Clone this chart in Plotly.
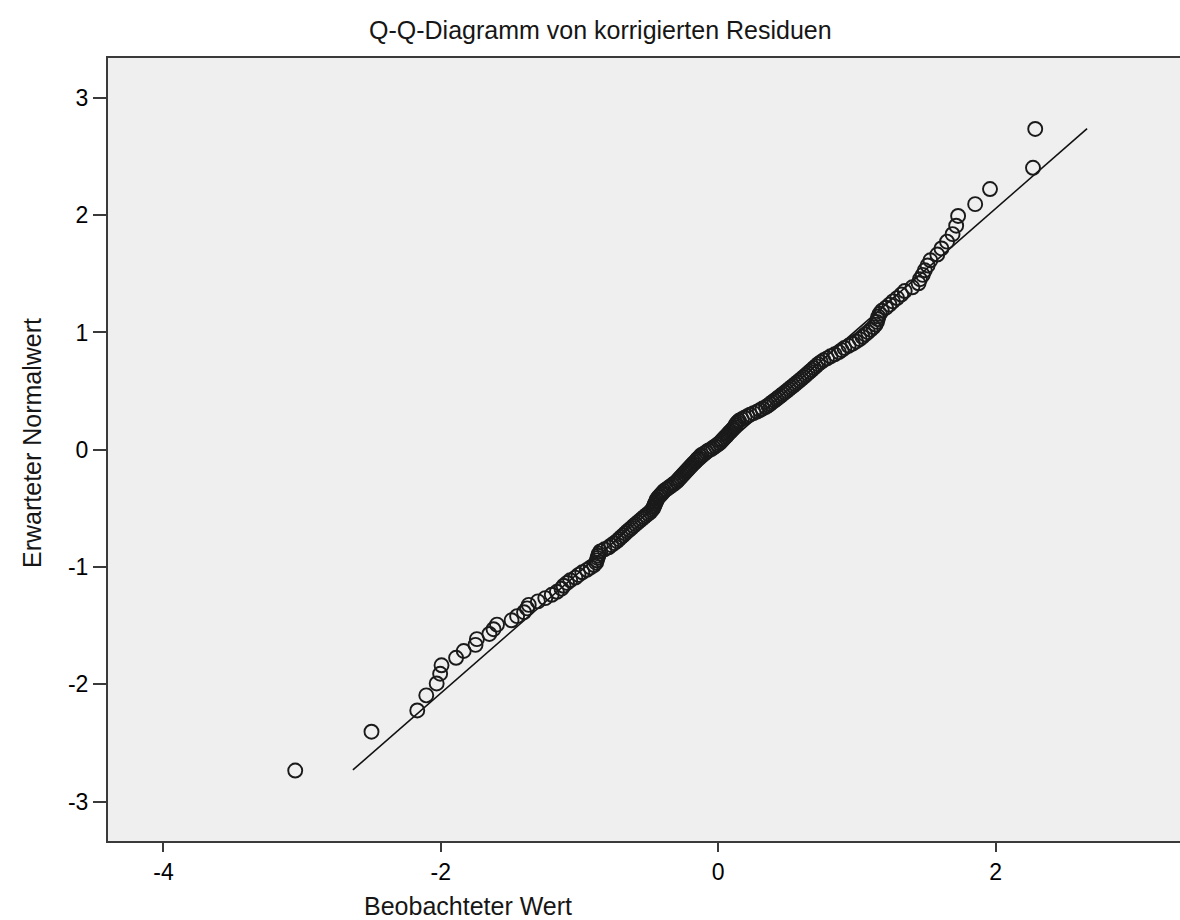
import plotly.graph_objects as go

expected_normal = [
    -2.735, -2.404, -2.223, -2.094, -1.993, -1.910, -1.838, -1.774, -1.716, -1.664,
    -1.615, -1.571, -1.530, -1.491, -1.454, -1.419, -1.385, -1.353, -1.323, -1.293,
    -1.265, -1.237, -1.211, -1.185, -1.160, -1.136, -1.113, -1.090, -1.067, -1.045,
    -1.024, -1.003, -0.983, -0.963, -0.943, -0.923, -0.904, -0.886, -0.867, -0.849,
    -0.832, -0.814, -0.797, -0.779, -0.763, -0.746, -0.730, -0.713, -0.697, -0.681,
    -0.666, -0.650, -0.635, -0.619, -0.604, -0.589, -0.574, -0.560, -0.545, -0.531,
    -0.516, -0.502, -0.488, -0.474, -0.460, -0.446, -0.432, -0.419, -0.405, -0.392,
    -0.378, -0.365, -0.351, -0.338, -0.325, -0.312, -0.299, -0.286, -0.273, -0.260,
    -0.247, -0.234, -0.221, -0.208, -0.195, -0.183, -0.170, -0.157, -0.145, -0.132,
    -0.119, -0.107, -0.094, -0.081, -0.069, -0.056, -0.044, -0.031, -0.019, -0.006,
    0.006, 0.019, 0.031, 0.044, 0.056, 0.069, 0.081, 0.094, 0.107, 0.119,
    0.132, 0.145, 0.157, 0.170, 0.183, 0.195, 0.208, 0.221, 0.234, 0.247,
    0.260, 0.273, 0.286, 0.299, 0.312, 0.325, 0.338, 0.351, 0.365, 0.378,
    0.392, 0.405, 0.419, 0.432, 0.446, 0.460, 0.474, 0.488, 0.502, 0.516,
    0.531, 0.545, 0.560, 0.574, 0.589, 0.604, 0.619, 0.635, 0.650, 0.666,
    0.681, 0.697, 0.713, 0.730, 0.746, 0.763, 0.779, 0.797, 0.814, 0.832,
    0.849, 0.867, 0.886, 0.904, 0.923, 0.943, 0.963, 0.983, 1.003, 1.024,
    1.045, 1.067, 1.090, 1.113, 1.136, 1.160, 1.185, 1.211, 1.237, 1.265,
    1.293, 1.323, 1.353, 1.385, 1.419, 1.454, 1.491, 1.530, 1.571, 1.615,
    1.664, 1.716, 1.774, 1.838, 1.910, 1.993, 2.094, 2.223, 2.404, 2.735,
]

observed_value = [
    -3.05, -2.50, -2.17, -2.105, -2.03, -2.005, -1.995, -1.89, -1.835, -1.75,
    -1.74, -1.65, -1.62, -1.595, -1.49, -1.45, -1.40, -1.378, -1.366, -1.30,
    -1.247, -1.20, -1.163, -1.13, -1.115, -1.09, -1.067, -1.03, -1.007, -0.98,
    -0.947, -0.92, -0.895, -0.88, -0.875, -0.87, -0.865, -0.86, -0.85, -0.82,
    -0.79, -0.77, -0.75, -0.73, -0.715, -0.70, -0.685, -0.67, -0.655, -0.64,
    -0.625, -0.61, -0.595, -0.58, -0.565, -0.55, -0.535, -0.52, -0.505, -0.49,
    -0.48, -0.47, -0.465, -0.46, -0.455, -0.45, -0.445, -0.44, -0.43, -0.42,
    -0.41, -0.40, -0.39, -0.375, -0.36, -0.345, -0.33, -0.315, -0.30, -0.29,
    -0.28, -0.27, -0.26, -0.25, -0.24, -0.23, -0.22, -0.21, -0.20, -0.19,
    -0.18, -0.17, -0.16, -0.15, -0.14, -0.13, -0.12, -0.10, -0.085, -0.07,
    -0.05, -0.035, -0.02, -0.005, 0.01, 0.02, 0.03, 0.04, 0.05, 0.06,
    0.07, 0.08, 0.09, 0.10, 0.11, 0.12, 0.125, 0.13, 0.14, 0.15,
    0.17, 0.19, 0.21, 0.23, 0.255, 0.28, 0.30, 0.32, 0.345, 0.36,
    0.375, 0.39, 0.405, 0.42, 0.435, 0.45, 0.465, 0.48, 0.495, 0.51,
    0.525, 0.54, 0.555, 0.57, 0.585, 0.60, 0.615, 0.63, 0.645, 0.66,
    0.675, 0.69, 0.705, 0.72, 0.74, 0.76, 0.785, 0.81, 0.84, 0.87,
    0.89, 0.91, 0.94, 0.97, 0.995, 1.02, 1.04, 1.06, 1.08, 1.10,
    1.12, 1.135, 1.145, 1.15, 1.155, 1.165, 1.18, 1.21, 1.235, 1.26,
    1.29, 1.32, 1.345, 1.40, 1.445, 1.455, 1.475, 1.49, 1.51, 1.53,
    1.58, 1.61, 1.65, 1.69, 1.716, 1.73, 1.853, 1.96, 2.27, 2.286,
]

# Reference line end points
ref_line_x = [-2.634, 2.66]
ref_line_y = [-2.73, 2.737]

x_ticks = [-4, -2, 0, 2]
y_ticks = [-3, -2, -1, 0, 1, 2, 3]

title_text = "Q-Q-Diagramm von korrigierten Residuen"
x_title = "Beobachteter Wert"
y_title = "Erwarteter Normalwert"

FONT = "Liberation Sans, Arial, sans-serif"

fig = go.Figure()
fig.add_trace(go.Scatter(
    x=ref_line_x, y=ref_line_y, mode="lines",
    line=dict(color="#111111", width=1.6), hoverinfo="skip", showlegend=False,
))
fig.add_trace(go.Scatter(
    x=observed_value, y=expected_normal, mode="markers",
    marker=dict(symbol="circle-open", size=14, color="#1a1a1a", line=dict(width=1.9)),
    showlegend=False,
))

L, T, B = 108, 58, 79
W, H = 1180, 920
pw, ph = W - L, H - T - B

def px(xp):
    return (xp - L) / pw

def py(yp):
    return (H - B - yp) / ph

fig.update_layout(
    width=W, height=H,
    margin=dict(l=L, r=0, t=T, b=B),
    paper_bgcolor="white",
    plot_bgcolor="#efefef",
    font=dict(family=FONT, color="#000000", size=22),
    showlegend=False,
    annotations=[
        dict(text=title_text, xref="paper", yref="paper", x=px(600), y=py(30),
             xanchor="center", yanchor="middle", showarrow=False,
             font=dict(size=25, family=FONT, color="#161616")),
        dict(text=x_title, xref="paper", yref="paper", x=px(468), y=py(906),
             xanchor="center", yanchor="middle", showarrow=False,
             font=dict(size=25, family=FONT, color="#161616")),
        dict(text=y_title, xref="paper", yref="paper", x=px(32), y=py(443),
             xanchor="center", yanchor="middle", showarrow=False, textangle=-90,
             font=dict(size=25, family=FONT, color="#161616")),
    ],
)

fig.update_xaxes(
    range=[-4.40, 3.33], tickmode="array", tickvals=x_ticks,
    ticktext=[str(v) for v in x_ticks],
    showgrid=False, zeroline=False,
    showline=True, linecolor="#3a3a3a", linewidth=2, mirror=True,
    ticks="outside", ticklen=9, tickwidth=2, tickcolor="#3a3a3a",
    tickfont=dict(size=23, family=FONT, color="#000000"),
)
fig.update_yaxes(
    range=[-3.336, 3.34], tickmode="array", tickvals=y_ticks,
    ticktext=[str(v) for v in y_ticks],
    showgrid=False, zeroline=False,
    showline=True, linecolor="#3a3a3a", linewidth=2,
    ticks="outside", ticklen=13, tickwidth=2, tickcolor="#3a3a3a",
    tickfont=dict(size=23, family=FONT, color="#000000"),
)

fig.write_html("out.html")
